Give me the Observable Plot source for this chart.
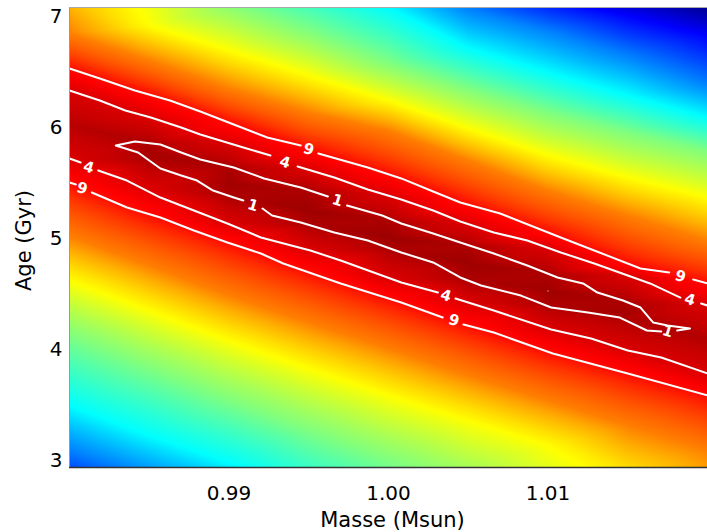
<!DOCTYPE html>
<html><head><meta charset="utf-8">
<script src="https://cdn.jsdelivr.net/npm/d3@7"></script>
<script src="https://cdn.jsdelivr.net/npm/@observablehq/plot@0.6"></script>
<style>body{margin:0;background:#fff}</style>
</head><body><div id="chart"></div>
<script>
// ---- axes ----
const massDomain = [0.98, 1.02];
const ageDomain = [2.937, 7.081];
const massTicks = [0.99, 1.00, 1.01];
const ageTicks = [3, 4, 5, 6, 7];

// ---- chi2 surface (band crossings per mass column) ----
const massCols = [0.980, 0.985, 0.990, 0.995, 1.000, 1.005, 1.010, 1.015, 1.020];
const topChi2    = [45, 75, 118, 155, 196, 268, 350, 414, 480];
const bottomChi2 = [320, 259, 205, 162, 130, 106, 80, 58, 39];
const valleyAge  = [6.027, 5.775, 5.495, 5.252, 5.009, 4.775, 4.532, 4.324, 4.090];
const valleyChi2 = [1.6, 0.8, 0.6, 0.45, 0.35, 0.45, 0.55, 0.7, 1.3];
const bandChi2 = [1, 4, 9, 31, 70, 125, 195, 281, 383];
const ageAbove = [
  [null, 5.856, 5.649, 5.432, 5.162, 4.937, 4.685, 4.432, null],
  [6.333, 6.090, 5.856, 5.622, 5.378, 5.126, 4.910, 4.667, 4.396],
  [6.531, 6.297, 6.045, 5.802, 5.577, 5.306, 5.054, 4.775, 4.595],
  [6.847, 6.604, 6.351, 6.135, 5.973, 5.703, 5.432, 5.207, 4.982],
  [null, 6.919, 6.694, 6.468, 6.243, 5.991, 5.748, 5.550, 5.369],
  [null, null, null, 6.874, 6.586, 6.351, 6.135, 5.955, 5.793],
  [null, null, null, null, null, 6.712, 6.495, 6.288, 6.090],
  [null, null, null, null, null, 7.072, 6.874, 6.649, 6.396],
  [null, null, null, null, null, null, null, 7.009, 6.829]
];
const ageBelow = [
  [null, 5.703, 5.378, 5.126, 4.910, 4.622, 4.405, 4.288, null],
  [5.721, 5.459, 5.135, 4.901, 4.640, 4.423, 4.189, 3.991, 3.784],
  [5.504, 5.216, 4.964, 4.703, 4.459, 4.216, 3.982, 3.784, 3.586],
  [5.018, 4.757, 4.486, 4.243, 4.009, 3.766, 3.541, 3.315, 3.090],
  [4.622, 4.351, 4.081, 3.829, 3.586, 3.360, 3.135, null, null],
  [4.126, 3.829, 3.541, 3.270, 3.000, null, null, null, null],
  [3.495, 3.225, 2.982, null, null, null, null, null, null],
  [3.090, null, null, null, null, null, null, null, null],
  [null, null, null, null, null, null, null, null, null]
];

// ---- contour lines (mass, age), segments broken at the labels ----
const c9u1 = [[0.9800,6.531],[0.9819,6.441],[0.9841,6.333],[0.9863,6.243],[0.9882,6.144],[0.9903,6.027],[0.9924,5.910],[0.9945,5.838]];
const c9u2 = [[0.9956,5.766],[0.9987,5.640],[1.0008,5.541],[1.0028,5.423],[1.0045,5.324],[1.0070,5.225],[1.0108,5.009],[1.0129,4.892],[1.0158,4.730],[1.0176,4.694]];
const c9u3 = [[1.0191,4.631],[1.0200,4.595]];
const c4u1 = [[0.9800,6.333],[0.9819,6.243],[0.9835,6.153],[0.9851,6.090],[0.9870,6.000],[0.9882,5.937],[0.9909,5.820],[0.9926,5.748]];
const c4u2 = [[0.9943,5.649],[0.9966,5.550],[0.9987,5.441],[1.0008,5.351],[1.0028,5.252],[1.0045,5.153],[1.0066,5.054],[1.0087,4.982],[1.0108,4.874],[1.0129,4.775],[1.0150,4.667],[1.0164,4.595],[1.0183,4.468]];
const c4u3 = [[1.0196,4.414],[1.0200,4.396]];
const c4l1 = [[0.9800,5.721],[0.9807,5.685]];
const c4l2 = [[0.9818,5.613],[0.9836,5.522],[0.9857,5.369],[0.9878,5.252],[0.9899,5.135],[0.9920,5.009],[0.9951,4.892],[0.9970,4.802],[1.0008,4.604],[1.0031,4.513]];
const c4l3 = [[1.0042,4.459],[1.0066,4.351],[1.0102,4.180],[1.0127,4.099],[1.0150,3.991],[1.0171,3.928],[1.0200,3.784]];
const c9l1 = [[0.9800,5.504],[0.9804,5.486]];
const c9l2 = [[0.9814,5.414],[0.9836,5.279],[0.9857,5.189],[0.9878,5.072],[0.9899,4.964],[0.9920,4.865],[0.9934,4.775],[0.9970,4.595],[1.0008,4.423],[1.0034,4.288]];
const c9l3 = [[1.0047,4.225],[1.0066,4.153],[1.0103,3.964],[1.0150,3.784],[1.0200,3.586]];
const c1a = [[0.9909,5.342],[0.9903,5.369],[0.9890,5.432],[0.9880,5.522],[0.9870,5.568],[0.9857,5.631],[0.9843,5.775],[0.9829,5.838],[0.9841,5.874],[0.9857,5.847],[0.9870,5.775],[0.9882,5.712],[0.9903,5.640],[0.9922,5.541],[0.9945,5.459],[0.9962,5.378]];
const c1b = [[0.9974,5.297],[0.9996,5.207],[1.0008,5.135],[1.0028,5.045],[1.0045,4.964],[1.0066,4.865],[1.0087,4.757],[1.0106,4.649],[1.0122,4.595],[1.0131,4.513],[1.0147,4.441],[1.0158,4.378],[1.0166,4.243],[1.0175,4.216],[1.0189,4.189],[1.0181,4.171]];
const c1c = [[1.0171,4.162],[1.0162,4.171],[1.0145,4.288],[1.0125,4.333],[1.0102,4.378],[1.0083,4.486],[1.0058,4.577],[1.0045,4.649],[1.0028,4.784],[1.0008,4.874],[0.9987,4.982],[0.9966,5.054],[0.9945,5.144],[0.9927,5.207],[0.9921,5.270]];

// ---- contour labels ----
const labelText = ["9", "9", "4", "4", "4", "4", "9", "9", "1", "1", "1"];
const labelMass = [0.9950, 1.0183, 0.9935, 1.0189, 0.9812, 1.0036, 0.9808, 1.0041, 0.9915, 0.9968, 1.0175];
const labelAge  = [5.802, 4.658, 5.685, 4.450, 5.640, 4.486, 5.450, 4.261, 5.297, 5.342, 4.162];

// ---- build tables ----
const bg = [];
massCols.forEach((m, j) => {
  bg.push({m, age: ageDomain[1], chi2: topChi2[j]});
  bg.push({m, age: ageDomain[0], chi2: bottomChi2[j]});
  bg.push({m, age: valleyAge[j], chi2: valleyChi2[j]});
  bandChi2.forEach((v, k) => {
    if (ageAbove[k][j] != null) bg.push({m, age: ageAbove[k][j], chi2: v});
    if (ageBelow[k][j] != null) bg.push({m, age: ageBelow[k][j], chi2: v});
  });
});
const segs = {c9u1, c9u2, c9u3, c4u1, c4u2, c4u3, c4l1, c4l2, c4l3, c9l1, c9l2, c9l3, c1a, c1b, c1c};
const lines = Object.entries(segs).flatMap(([id, pts]) => pts.map(([m, age]) => ({id, m, age})));
const labels = labelText.map((t, i) => ({t, m: labelMass[i], age: labelAge[i]}));

// reversed "jet" colour table (IDL style): dark red at minimum, dark blue at maximum
function jetR(t) {
  const s = 1 - t;
  const c = v => Math.round(255 * Math.max(0, Math.min(1, v)));
  return `rgb(${c(1.5 - Math.abs(4 * s - 3))},${c(1.5 - Math.abs(4 * s - 2))},${c(1.5 - Math.abs(4 * s - 1))})`;
}

const font = "DejaVu Sans, Liberation Sans, Arial, sans-serif";
const plot = Plot.plot({
  width: 707,
  height: 532,
  marginLeft: 69,
  marginRight: 0,
  marginTop: 7,
  marginBottom: 65,
  style: {fontFamily: font, fontSize: "20px", background: "white", color: "black"},
  x: {domain: massDomain},
  y: {domain: ageDomain},
  color: {type: "sqrt", domain: [0, 500], interpolate: jetR, clamp: true},
  marks: [
    Plot.raster(bg, {x: "m", y: "age", fill: "chi2", interpolate: "barycentric"}),
    Plot.line(lines, {x: "m", y: "age", z: "id", stroke: "white", strokeWidth: 2, curve: "linear"}),
    Plot.text(labels, {x: "m", y: "age", text: "t", fill: "white", fontSize: 15, fontWeight: "bold", rotate: 17}),
    Plot.ruleX(massDomain.slice(0, 1), {stroke: "#999", strokeWidth: 1}),
    Plot.ruleY(ageDomain.slice(1), {stroke: "#aaa", strokeWidth: 1}),
    Plot.ruleY(ageDomain.slice(0, 1), {stroke: "#333", strokeWidth: 1.5}),
    Plot.axisX({ticks: massTicks, tickFormat: ".2f", tickSize: 0, tickPadding: 18, label: null, fontSize: 20}),
    Plot.axisY({ticks: ageTicks, tickFormat: "d", tickSize: 0, tickPadding: 7, label: null, fontSize: 20}),
    Plot.text(["Masse (Msun)"], {text: d => d, frameAnchor: "bottom", textAnchor: "middle", lineAnchor: "middle", dx: 4, dy: 53, fontSize: 21, fill: "black"}),
    Plot.text(["Age (Gyr)"], {text: d => d, frameAnchor: "left", textAnchor: "middle", lineAnchor: "middle", rotate: -90, dx: -45, dy: 3, fontSize: 21, fill: "black"})
  ]
});
document.getElementById("chart").append(plot);
</script></body></html>
